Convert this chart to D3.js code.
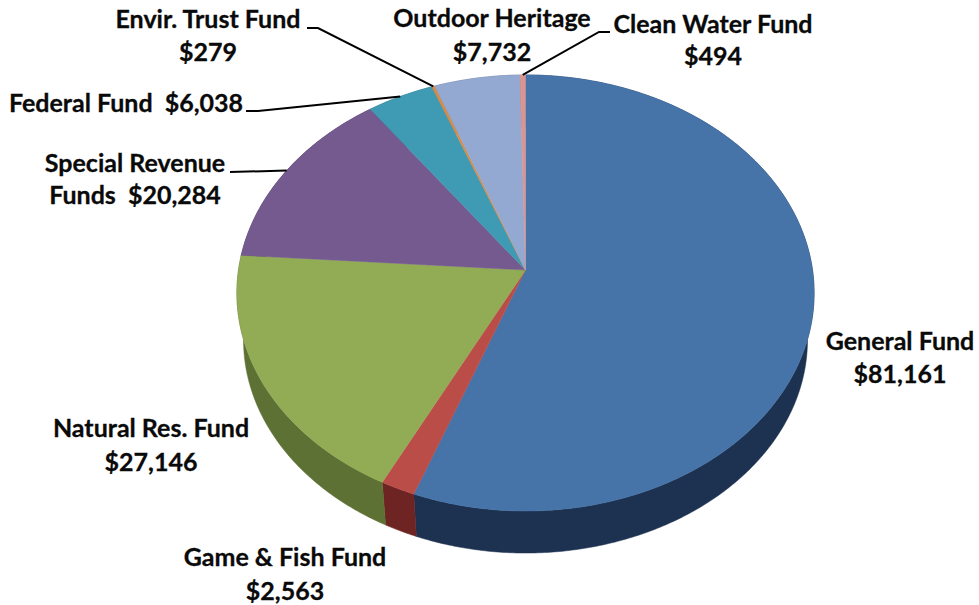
<!DOCTYPE html>
<html>
<head>
<meta charset="utf-8">
<script src="https://cdn.jsdelivr.net/npm/d3@7/dist/d3.min.js"></script>
<style>
  html, body { margin: 0; padding: 0; background: #fff; }
  svg { display: block; }
  text { font-family: Lato, "Open Sans", sans-serif; font-weight: 700; fill: #0a0a0a; stroke: #0a0a0a; stroke-width: 0.3; text-anchor: middle; }
</style>
</head>
<body>
<div id="chart"></div>
<script>
// Fund balances, clockwise from twelve o'clock
const funds = ["General Fund", "Game & Fish Fund", "Natural Res. Fund", "Special Revenue Funds",
               "Federal Fund", "Envir. Trust Fund", "Outdoor Heritage", "Clean Water Fund"];
const amounts = [81161, 2563, 27146, 20284, 6038, 279, 7732, 494];
const topColors = ["#4674a9", "#bb4d49", "#92ab55", "#755a90", "#3f9bb3", "#d98c46", "#94a9d1", "#d79694"];
const sideColors = ["#1d3150", "#6e2423", "#5c7133", "#463358", "#23606f", "#8a5523", "#5a6a8c", "#8a5553"];

// Label placement: name lines, amount position, anchor centre and baselines
const labelRows = [
  { i: 0, x: 900, rows: [["General Fund", 350], ["{v}", 383]] },
  { i: 1, x: 285, rows: [["Game & Fish Fund", 566], ["{v}", 600]] },
  { i: 2, x: 151, rows: [["Natural Res. Fund", 437], ["{v}", 471]] },
  { i: 3, x: 135, rows: [["Special Revenue", 172], ["Funds  {v}", 204]] },
  { i: 4, x: 126, rows: [["Federal Fund  {v}", 112]] },
  { i: 5, x: 208, rows: [["Envir. Trust Fund", 28], ["{v}", 61]] },
  { i: 6, x: 492, rows: [["Outdoor Heritage", 27], ["{v}", 61]] },
  { i: 7, x: 713, rows: [["Clean Water Fund", 33], ["{v}", 65]] }
];

// Leader lines start beside their label, run through an elbow, then meet the slice rim
const leaders = [
  { i: 3, from: [230, 172] },
  { i: 4, from: [246, 111], elbow: [258, 111] },
  { i: 5, from: [307, 28], elbow: [318, 28] },
  { i: 7, from: [610, 32], elbow: [599, 32] }
];

const width = 979, height = 605;
const svg = d3.select("#chart").append("svg").attr("width", width).attr("height", height);

// Perspective projection of the pie's unit circle onto the page
const tilt = 0.1055;
function projector(cx, cy, rx, ry) {
  return (angle, r = 1) => {
    const w = 1 + tilt * r * Math.cos(angle);
    return [cx + rx * r * Math.sin(angle) / w, cy - ry * r * Math.cos(angle) / w];
  };
}
const topFace = projector(525.5, 270, 287, 215.6);
const bottomFace = projector(525.5, 317.6, 280.4, 210.6);

const pie = d3.pie().sort(null).value(d => d);
const arcs = pie(amounts);
const line = d3.line();

function arcAngles(a) {
  const n = Math.max(2, Math.ceil((a.endAngle - a.startAngle) / 0.01));
  return d3.range(n + 1).map(k => a.startAngle + (a.endAngle - a.startAngle) * k / n);
}

// Rim walls first, so that the top face covers everything behind it
svg.append("g").selectAll("path").data(arcs).join("path")
  .attr("d", a => {
    const t = arcAngles(a);
    return line([...t.map(v => topFace(v)), ...t.slice().reverse().map(v => bottomFace(v))]) + "Z";
  })
  .attr("fill", (a, i) => sideColors[i])
  .attr("stroke", (a, i) => sideColors[i])
  .attr("stroke-width", 0.5);

// Top face wedges
svg.append("g").selectAll("path").data(arcs).join("path")
  .attr("d", a => line([topFace(0, 0), ...arcAngles(a).map(v => topFace(v))]) + "Z")
  .attr("fill", (a, i) => topColors[i])
  .attr("stroke", (a, i) => topColors[i])
  .attr("stroke-width", 0.5);

// Leader lines
svg.append("g").selectAll("path").data(leaders).join("path")
  .attr("d", d => {
    const a = arcs[d.i];
    const rim = topFace((a.startAngle + a.endAngle) / 2);
    return line(d.elbow ? [d.from, d.elbow, rim] : [d.from, rim]);
  })
  .attr("fill", "none")
  .attr("stroke", "#000")
  .attr("stroke-width", 2);

// Labels
const money = d3.format("$,");
const labels = svg.append("g").attr("font-size", 25).selectAll("g").data(labelRows).join("g");
labels.selectAll("text").data(d => d.rows.map(r => ({ s: r[0].replace("{v}", money(amounts[d.i])), y: r[1], x: d.x })))
  .join("text")
  .attr("x", d => d.x)
  .attr("y", d => d.y)
  .style("white-space", "pre")
  .text(d => d.s);
</script>
</body>
</html>
